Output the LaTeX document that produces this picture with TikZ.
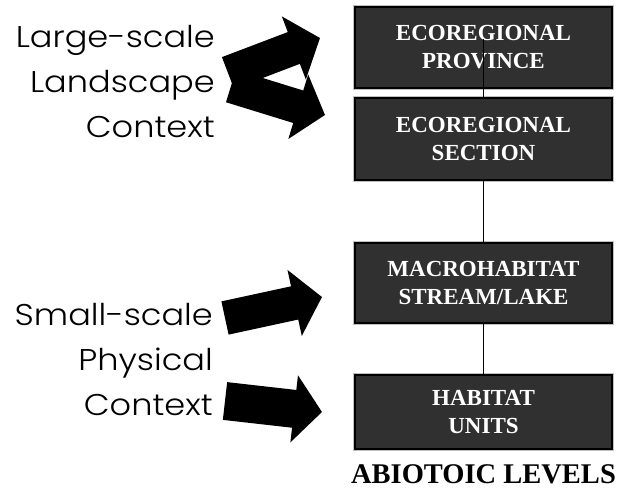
\documentclass[tikz,border=0pt]{standalone}
\usepackage{fontspec}
\setmainfont{Liberation Serif}
\newfontfamily\ctxfont[FakeStretch=1.12]{Poppins Light}
\usetikzlibrary{arrows.meta}

\definecolor{boxgray}{HTML}{303030}

\tikzset{
  levelbox/.style={draw=black, line width=1.5pt, fill=boxgray, text=white,
    minimum width=257pt, align=center, inner sep=0pt,
    preaction={draw=black!25, line width=3.2pt},
    font=\fontsize{23}{28}\selectfont\bfseries},
  bigarrow/.style={line width=#1, -{Triangle[length=28pt,width=66pt]}},
  ctx/.style={anchor=base east, inner sep=0pt, font=\ctxfont\fontsize{30}{36}\selectfont}
}

\begin{document}
\begin{tikzpicture}[x=1pt,y=1pt]
\useasboundingbox (0,0) rectangle (618,488);

%%%%%%%%%%%%%%%%%%%%%%%%%%%%%%%%%%%%%%%%%%%%
\node[levelbox, minimum height=81pt] (prov) at (483.5,440.5) {ECOREGIONAL\\PROVINCE};
\node[levelbox, minimum height=82pt] (sect) at (483.5,349) {ECOREGIONAL\\SECTION};
\node[levelbox, minimum height=80pt] (macro) at (483.5,205) {MACROHABITAT\\STREAM/LAKE};
\node[levelbox, minimum height=74pt] (hab) at (483.5,76) {HABITAT\\UNITS};

\draw[line width=1.2pt] ([yshift=8.5pt]prov.center) -- (sect.north);
\draw[line width=1.2pt] (sect) -- (macro);
\draw[line width=1.2pt] (macro) -- (hab);

\node[font=\fontsize{28.5}{30}\selectfont\bfseries] (title) at (483.5,14) {ABIOTOIC LEVELS};

%%%%%%%%%%%%%%%%%%%%%%%%%%%%%%%%%%%%%%%%%%%%
\node[ctx] (large1) at (215,440) {Large-scale};
\node[ctx] (large2) at (215,395) {Landscape};
\node[ctx] (large3) at (215,350) {Context};

\node[ctx] (small1) at (213,163) {Small-scale};
\node[ctx] (small2) at (213,118) {Physical};
\node[ctx] (small3) at (213,73) {Context};

\coordinate (tailA) at (228,415);
\coordinate (tipA) at (320,450);
\coordinate (tailB) at (231,402);
\coordinate (tipB) at (325,373);
\coordinate (tailC) at (225,170);
\coordinate (tipC) at (322,191);
\coordinate (tailD) at (225,87);
\coordinate (tipD) at (322,76);

\draw[bigarrow=34pt] (tailA) -- (tipA);
\draw[bigarrow=34pt] (tailB) -- (tipB);
\draw[bigarrow=34pt] (tailC) -- (tipC);
\draw[bigarrow=38pt] (tailD) -- (tipD);

\end{tikzpicture}
\end{document}
